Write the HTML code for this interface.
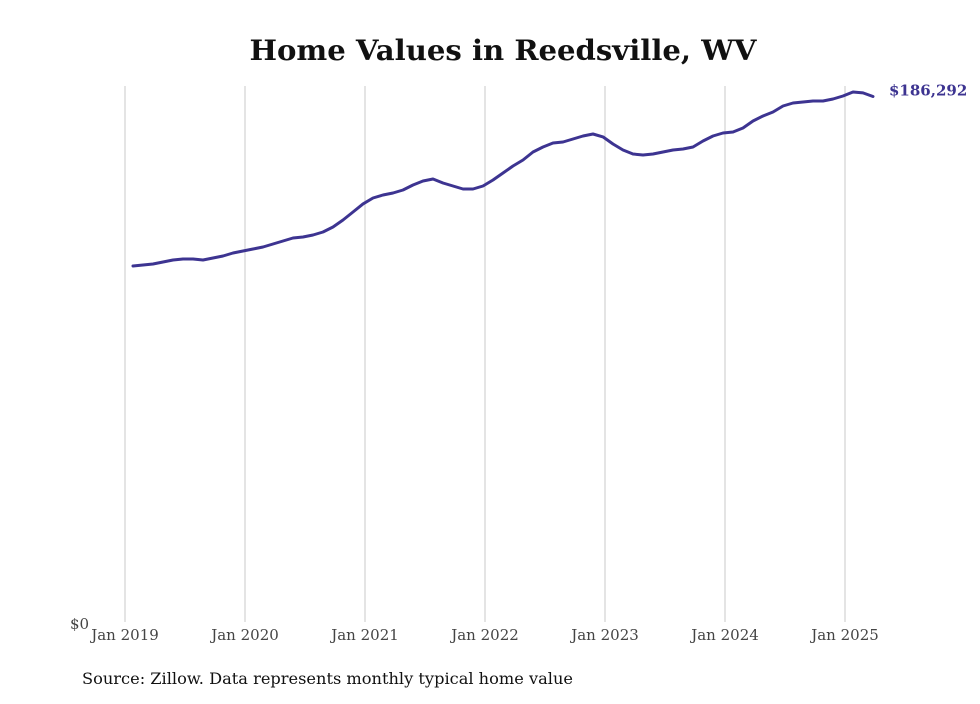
<!DOCTYPE html>
<html><head><meta charset="utf-8"><style>
body{margin:0;background:#fff;}
svg text{font-family:"DejaVu Serif","Liberation Serif",serif;}
</style></head><body>
<svg width="980" height="699" viewBox="0 0 980 699" xmlns="http://www.w3.org/2000/svg">
<text x="503" y="60" text-anchor="middle" font-size="28" font-weight="bold" fill="#111" textLength="507" lengthAdjust="spacingAndGlyphs">Home Values in Reedsville, WV</text>
<g id="grid"></g>
<g id="xt"></g>
<text x="70" y="629" font-size="15" fill="#444">$0</text>
<path id="line" fill="none" stroke="#3d3491" stroke-width="3" stroke-linejoin="round" stroke-linecap="round"/>
<text id="endlab" font-size="15" font-weight="bold" fill="#3d3491"></text>
<text x="82" y="684" font-size="16" fill="#111" textLength="491" lengthAdjust="spacingAndGlyphs">Source: Zillow. Data represents monthly typical home value</text>
</svg>
<script>
const years = ["Jan 2019","Jan 2020","Jan 2021","Jan 2022","Jan 2023","Jan 2024","Jan 2025"];
const values = [126200,126560,126910,127620,128330,128680,128680,128330,129040,129750,130810,131520,132230,132940,134000,135060,136130,136480,137190,138260,140030,142510,145350,148190,150310,151370,152080,153140,154920,156330,157040,155620,154560,153500,153500,154560,156690,159170,161650,163780,166620,168390,169810,170160,171230,172290,173000,171940,169450,167330,165910,165550,165910,166620,167330,167680,168390,170520,172290,173350,173710,175120,177600,179380,180800,182920,183990,184340,184700,184700,185400,186470,187890,187540,186292];
const endLabel = "$186,292";
const yMax = 190000;
const x = m => 125 + 10*m;
const y = v => 622 - v/yMax*536;
const ns="http://www.w3.org/2000/svg";
const grid=document.getElementById('grid'), xt=document.getElementById('xt');
years.forEach((lab,i)=>{
  const l=document.createElementNS(ns,'line');
  
  
  l.setAttribute('x1',x(i*12));l.setAttribute('x2',x(i*12));
  l.setAttribute('y1',86);l.setAttribute('y2',622);
  l.setAttribute('stroke','#c8c8c8');l.setAttribute('stroke-width','1');
  grid.appendChild(l);
  const t=document.createElementNS(ns,'text');
  
  
  t.setAttribute('x',x(i*12));t.setAttribute('y',640);
  t.setAttribute('text-anchor','middle');t.setAttribute('font-size','15');t.setAttribute('fill','#444');
  t.textContent=lab;xt.appendChild(t);
});
let d='';
values.forEach((v,i)=>{d+=(i?'L':'M')+x(i+0.8).toFixed(1)+' '+y(v).toFixed(1);});
document.getElementById('line').setAttribute('d',d);
const el=document.getElementById('endlab');
el.setAttribute('x',x(values.length-1+0.8)+16);
el.setAttribute('y',y(values[values.length-1])-1);
el.textContent=endLabel;
</script>
</body></html>
